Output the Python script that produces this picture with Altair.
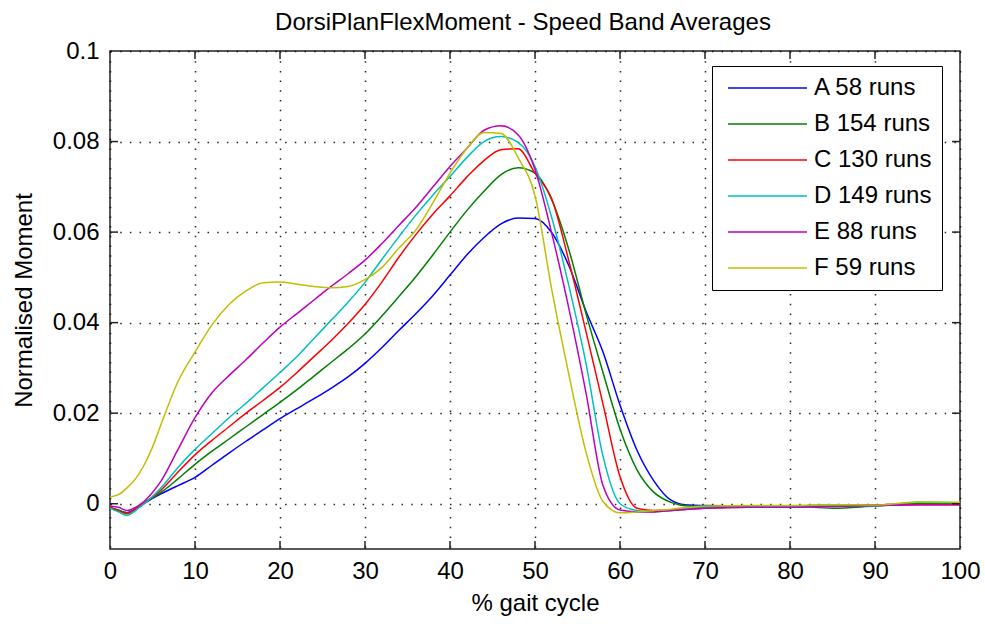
import altair as alt
import pandas as pd

# % gait cycle sample positions (shared by every speed band)
pct = [0, 1, 2, 3, 4, 5, 6, 8, 10, 12, 14, 16, 18, 20, 22, 24, 26, 28, 30,
       32, 34, 36, 38, 40, 42, 44, 46, 48, 50, 52, 54, 56, 58, 60, 62, 64,
       66, 68, 70, 75, 80, 85, 90, 95, 100]

# Averaged normalised dorsi/plantar flexion moment per speed band
band_a = [-0.0008, -0.0015, -0.0020, -0.0012, 0.0000, 0.0012, 0.0022, 0.0040,
          0.0058, 0.0085, 0.0112, 0.0138, 0.0163, 0.0188, 0.0210, 0.0232,
          0.0255, 0.0280, 0.0310, 0.0345, 0.0383, 0.0420, 0.0460, 0.0505,
          0.0550, 0.0588, 0.0618, 0.0631, 0.0630, 0.0598, 0.0525, 0.0425,
          0.0335, 0.0218, 0.0118, 0.0050, 0.0008, -0.0003, -0.0004, -0.0005,
          -0.0005, -0.0004, -0.0003, 0.0001, 0.0000]
band_b = [-0.0008, -0.0014, -0.0020, -0.0012, 0.0001, 0.0013, 0.0025, 0.0055,
          0.0087, 0.0116, 0.0143, 0.0170, 0.0197, 0.0224, 0.0252, 0.0282,
          0.0312, 0.0342, 0.0375, 0.0415, 0.0458, 0.0502, 0.0550, 0.0600,
          0.0648, 0.0690, 0.0727, 0.0742, 0.0730, 0.0670, 0.0560, 0.0420,
          0.0290, 0.0165, 0.0075, 0.0025, 0.0003, -0.0005, -0.0006, -0.0006,
          -0.0005, -0.0010, -0.0005, 0.0000, 0.0000]
band_c = [-0.0008, -0.0016, -0.0022, -0.0012, 0.0002, 0.0015, 0.0030, 0.0070,
          0.0108, 0.0140, 0.0170, 0.0200, 0.0228, 0.0257, 0.0290, 0.0325,
          0.0360, 0.0398, 0.0440, 0.0490, 0.0545, 0.0595, 0.0640, 0.0680,
          0.0722, 0.0758, 0.0782, 0.0784, 0.0730, 0.0672, 0.0535, 0.0380,
          0.0220, 0.0060, -0.0010, -0.0015, -0.0015, -0.0012, -0.0010,
          -0.0008, -0.0006, -0.0003, -0.0004, -0.0002, -0.0002]
band_d = [-0.0010, -0.0018, -0.0026, -0.0015, 0.0000, 0.0016, 0.0035, 0.0080,
          0.0120, 0.0155, 0.0190, 0.0222, 0.0256, 0.0290, 0.0325, 0.0365,
          0.0405, 0.0445, 0.0489, 0.0540, 0.0590, 0.0638, 0.0682, 0.0723,
          0.0765, 0.0800, 0.0811, 0.0798, 0.0745, 0.0630, 0.0480, 0.0310,
          0.0105, 0.0000, -0.0015, -0.0018, -0.0015, -0.0010, -0.0008,
          -0.0007, -0.0006, -0.0004, -0.0005, 0.0003, 0.0002]
band_e = [-0.0005, -0.0008, -0.0015, -0.0008, 0.0005, 0.0025, 0.0050, 0.0120,
          0.0190, 0.0245, 0.0283, 0.0318, 0.0355, 0.0390, 0.0420, 0.0450,
          0.0480, 0.0508, 0.0538, 0.0575, 0.0615, 0.0655, 0.0700, 0.0745,
          0.0785, 0.0825, 0.0835, 0.0815, 0.0738, 0.0595, 0.0430, 0.0245,
          0.0040, -0.0014, -0.0018, -0.0018, -0.0015, -0.0012, -0.0010,
          -0.0008, -0.0008, -0.0006, -0.0004, -0.0002, -0.0002]
band_f = [0.0015, 0.0020, 0.0035, 0.0055, 0.0085, 0.0125, 0.0175, 0.0270,
          0.0335, 0.0395, 0.0440, 0.0470, 0.0488, 0.0490, 0.0485, 0.0480,
          0.0477, 0.0480, 0.0495, 0.0522, 0.0565, 0.0605, 0.0665, 0.0730,
          0.0785, 0.0820, 0.0818, 0.0765, 0.0680, 0.0470, 0.0284, 0.0114,
          0.0005, -0.0020, -0.0018, -0.0015, -0.0012, -0.0008, -0.0005,
          -0.0004, -0.0004, -0.0002, -0.0003, 0.0004, 0.0003]

band_labels = ["A 58 runs", "B 154 runs", "C 130 runs",
               "D 149 runs", "E 88 runs", "F 59 runs"]
band_colors = ["#0000ff", "#008000", "#ff0000", "#00bfbf", "#bf00bf", "#bfbf00"]

x_ticks = [0, 10, 20, 30, 40, 50, 60, 70, 80, 90, 100]
y_ticks = [0, 0.02, 0.04, 0.06, 0.08, 0.1]
x_inner_ticks = [10, 20, 30, 40, 50, 60, 70, 80, 90]
y_inner_ticks = [0, 0.02, 0.04, 0.06, 0.08]

FONT = "Liberation Sans"
W, H = 850, 498

rows = []
for label, values in zip(band_labels, [band_a, band_b, band_c, band_d, band_e, band_f]):
    for g, m in zip(pct, values):
        rows.append({"gait": g, "moment": m, "band": label})
df = pd.DataFrame(rows)

x_scale = alt.Scale(domain=[0, 100], nice=False, zero=False)
y_scale = alt.Scale(domain=[-0.01, 0.1], nice=False, zero=False)

lines = alt.Chart(df).mark_line(strokeWidth=1.5, interpolate="monotone", clip=True).encode(
    x=alt.X("gait:Q", scale=x_scale,
            axis=alt.Axis(values=x_ticks, title="% gait cycle", labelPadding=10,
                          titlePadding=8, labelFlush=False)),
    y=alt.Y("moment:Q", scale=y_scale,
            axis=alt.Axis(values=y_ticks, format="~g", title="Normalised Moment",
                          labelPadding=11, titlePadding=16, labelFlush=False)),
    color=alt.Color("band:N",
                    scale=alt.Scale(domain=band_labels, range=band_colors),
                    legend=alt.Legend(orient="none", legendX=602, legendY=15,
                                      title=None, strokeColor="black",
                                      fillColor="white", padding=10,
                                      symbolType="stroke", symbolSize=6241,
                                      symbolStrokeWidth=1.5, labelFontSize=24,
                                      labelFont=FONT, labelColor="black",
                                      rowPadding=12, labelOffset=6,
                                      symbolOffset=5, clipHeight=24)),
)

xt = pd.DataFrame({"gait": x_inner_ticks})
yt = pd.DataFrame({"moment": y_inner_ticks})
tick_style = dict(color="#222222", strokeWidth=1.5)

x_bottom = alt.Chart(xt).mark_rule(**tick_style).encode(
    x=alt.X("gait:Q", scale=x_scale), y=alt.value(H), y2=alt.value(H - 8))
x_top = alt.Chart(xt).mark_rule(**tick_style).encode(
    x=alt.X("gait:Q", scale=x_scale), y=alt.value(0), y2=alt.value(8))
y_left = alt.Chart(yt).mark_rule(**tick_style).encode(
    y=alt.Y("moment:Q", scale=y_scale), x=alt.value(0), x2=alt.value(8))
y_right = alt.Chart(yt).mark_rule(**tick_style).encode(
    y=alt.Y("moment:Q", scale=y_scale), x=alt.value(W), x2=alt.value(W - 8))

chart = alt.layer(lines, x_bottom, x_top, y_left, y_right).properties(
    width=W, height=H,
    padding={"left": 110, "top": 51, "right": 25, "bottom": 75},
    autosize=alt.AutoSizeParams(type="none"),
    background="white",
    title=alt.TitleParams("DorsiPlanFlexMoment - Speed Band Averages",
                          font=FONT, fontSize=24, fontWeight="normal",
                          color="black", anchor="middle", frame="group", dx=-12),
).configure_view(
    stroke="#222222", strokeWidth=1.5
).configure_axis(
    domain=False, ticks=False, tickSize=0,
    grid=True, gridColor="black", gridWidth=1.5, gridDash=[1.5, 8.2],
    gridOpacity=0.85,
    labelFont=FONT, labelFontSize=24, labelColor="black",
    titleFont=FONT, titleFontSize=24, titleFontWeight="normal", titleColor="black",
)

chart.save("out.html", embed_options={"renderer": "svg", "actions": False})
